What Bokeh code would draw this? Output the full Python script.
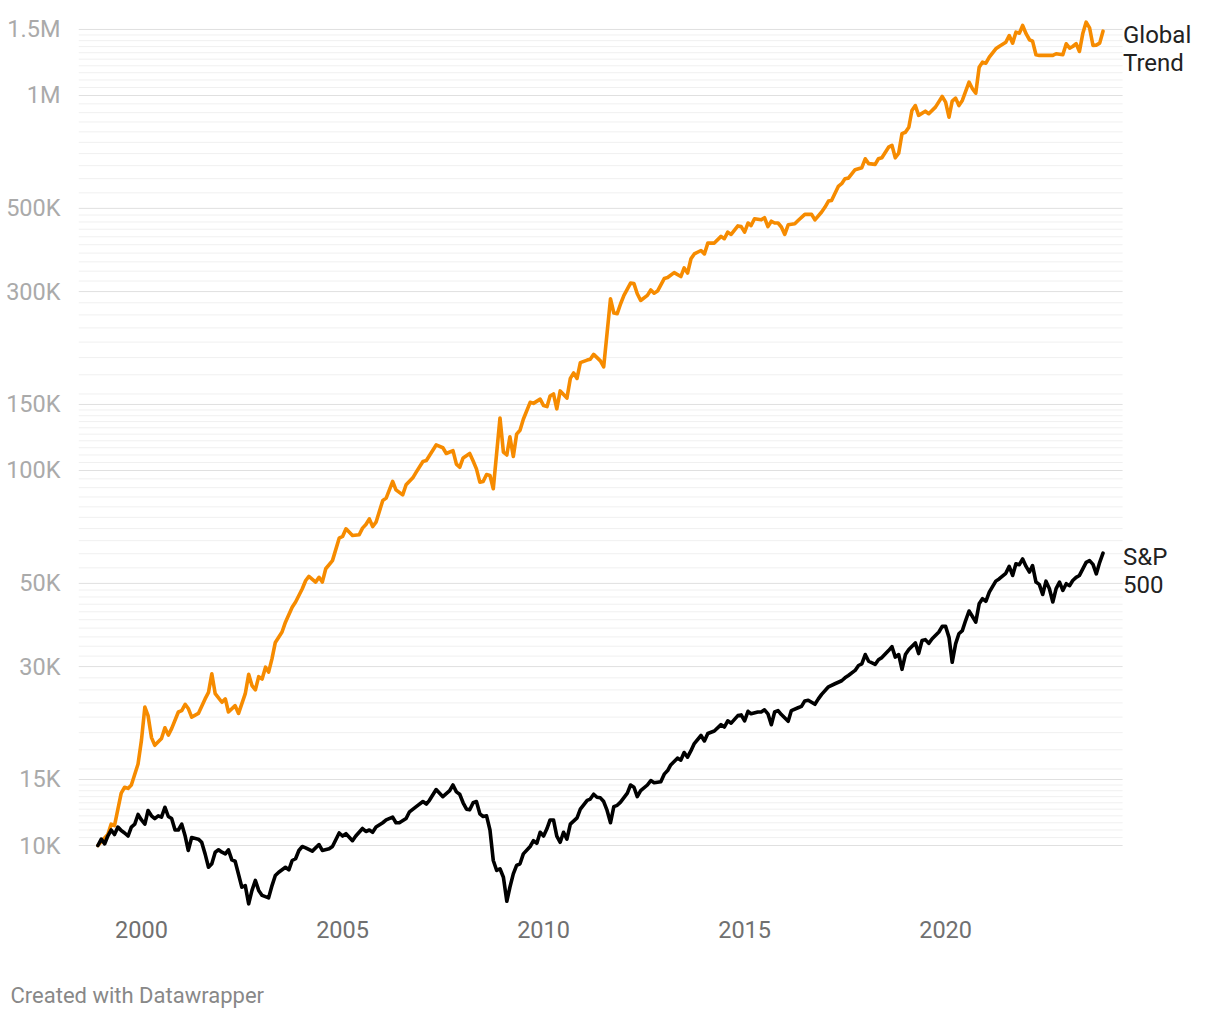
import math
import pandas as pd
from bokeh.plotting import figure
from bokeh.core.properties import value
from bokeh.models import (Range1d, FixedTicker, Label, LabelSet, DatetimeTickFormatter,
                          ColumnDataSource)
from bokeh.embed import file_html
from bokeh.resources import INLINE

# ---------------- data (months counted from December 1998) ----------------
START = pd.Timestamp("1998-12-01")

gt_month = [0, 3, 4, 5, 7, 8, 9, 10, 12, 13,
            14, 15, 16, 17, 19, 20, 21, 22, 24, 25,
            26, 27, 28, 30, 32, 33, 34, 35, 37, 38,
            39, 41, 42, 44, 45, 46, 47, 48, 49, 50,
            51, 52, 53, 55, 56, 58, 59, 61, 62, 63,
            65, 66, 67, 68, 70, 72, 73, 74, 76, 78,
            79, 80, 81, 82, 83, 85, 86, 88, 89, 91,
            92, 94, 95, 97, 98, 101, 103, 104, 106, 107,
            108, 109, 111, 112, 113, 114, 115, 116, 117, 118,
            120, 121, 122, 123, 124, 125, 126, 127, 129, 130,
            132, 133, 134, 135, 136, 137, 138, 140, 141, 142,
            143, 144, 146, 147, 148, 150, 151, 153, 154, 155,
            156, 157, 159, 160, 161, 162, 164, 165, 166, 167,
            169, 170, 172, 174, 175, 176, 177, 178, 180, 181,
            182, 184, 186, 187, 188, 189, 191, 192, 193, 194,
            195, 196, 198, 199, 200, 201, 202, 203, 204, 205,
            206, 208, 209, 211, 213, 214, 216, 217, 218, 219,
            221, 222, 223, 224, 226, 228, 229, 230, 232, 233,
            234, 236, 237, 238, 239, 240, 241, 242, 243, 244,
            245, 247, 248, 250, 252, 253, 254, 255, 256, 257,
            258, 260, 261, 262, 263, 264, 265, 266, 268, 269,
            271, 272, 273, 274, 275, 276, 277, 278, 279, 280,
            281, 285, 286, 288, 289, 290, 291, 292, 293, 294,
            295, 296, 297, 298, 299, 300]
gt_value = [10000, 10700, 11400, 11300, 13800, 14300, 14200, 14500, 16500, 19100,
            23400, 22200, 19400, 18500, 19300, 20600, 19700, 20500, 22700, 22900,
            23800, 23200, 22000, 22500, 24600, 25600, 28700, 25400, 24100, 24600,
            22700, 23600, 22500, 25400, 28600, 26700, 26000, 28200, 27800, 29900,
            29000, 31500, 34800, 37100, 39400, 43200, 44600, 48400, 50900, 52200,
            50400, 51900, 50400, 54700, 57500, 66000, 66700, 69900, 67100, 67400,
            70200, 71800, 74300, 70900, 72800, 83200, 84400, 93500, 88800, 86100,
            91600, 95600, 99000, 105700, 106300, 117000, 115000, 111000, 113000, 104000,
            102000, 108000, 111000, 106000, 101000, 93100, 93500, 97600, 97000, 89400,
            138000, 112000, 110000, 123000, 109000, 125000, 128000, 137000, 152000, 151000,
            155000, 149000, 148000, 158000, 160000, 146000, 163000, 156000, 176000, 182000,
            176000, 194000, 197000, 198000, 204000, 196000, 189000, 287000, 263000, 262000,
            278000, 293000, 316000, 315000, 296000, 284000, 293000, 303000, 297000, 301000,
            325000, 327000, 337000, 329000, 347000, 336000, 367000, 378000, 386000, 378000,
            404000, 404000, 421000, 415000, 432000, 426000, 449000, 447000, 432000, 457000,
            450000, 469000, 466000, 472000, 447000, 462000, 457000, 457000, 446000, 426000,
            452000, 455000, 464000, 482000, 482000, 466000, 489000, 504000, 523000, 525000,
            572000, 582000, 600000, 602000, 634000, 642000, 678000, 658000, 655000, 678000,
            682000, 728000, 736000, 682000, 702000, 791000, 798000, 823000, 912000, 940000,
            885000, 908000, 894000, 931000, 994000, 960000, 875000, 966000, 984000, 940000,
            970000, 1085000, 1042000, 1014000, 1190000, 1227000, 1219000, 1265000, 1332000, 1351000,
            1387000, 1445000, 1379000, 1475000, 1466000, 1537000, 1461000, 1408000, 1396000, 1284000,
            1279000, 1279000, 1292000, 1284000, 1374000, 1337000, 1351000, 1374000, 1310000, 1466000,
            1569000, 1515000, 1359000, 1362000, 1379000, 1484000]

sp_month = [0, 1, 2, 3, 4, 5, 6, 7, 8, 9,
            10, 11, 12, 13, 14, 15, 16, 17, 18, 19,
            20, 21, 22, 23, 24, 25, 26, 27, 28, 30,
            31, 32, 33, 34, 35, 36, 37, 38, 39, 40,
            41, 43, 44, 45, 46, 47, 48, 49, 51, 52,
            53, 54, 56, 57, 58, 59, 60, 61, 62, 64,
            66, 67, 69, 70, 72, 73, 74, 76, 77, 79,
            80, 81, 82, 83, 85, 86, 88, 89, 90, 92,
            93, 95, 97, 98, 99, 101, 103, 105, 106, 107,
            108, 109, 110, 111, 112, 113, 114, 115, 116, 117,
            118, 119, 120, 121, 122, 123, 124, 125, 126, 127,
            129, 130, 131, 132, 133, 134, 135, 136, 137, 138,
            139, 140, 141, 143, 144, 146, 147, 148, 149, 150,
            151, 152, 153, 154, 155, 156, 158, 159, 160, 161,
            162, 164, 165, 166, 168, 169, 170, 171, 173, 174,
            175, 176, 177, 178, 180, 181, 182, 184, 186, 187,
            188, 189, 191, 192, 193, 194, 195, 197, 198, 199,
            200, 201, 202, 203, 204, 206, 207, 209, 210, 211,
            212, 214, 215, 216, 218, 220, 222, 223, 224, 226,
            227, 228, 229, 230, 232, 233, 234, 236, 237, 238,
            239, 240, 241, 242, 244, 245, 246, 247, 248, 249,
            251, 252, 253, 254, 255, 256, 257, 258, 259, 260,
            261, 262, 263, 264, 265, 266, 268, 269, 271, 272,
            273, 274, 275, 276, 277, 278, 279, 280, 281, 282,
            283, 284, 285, 286, 287, 288, 289, 290, 291, 292,
            293, 295, 296, 297, 298, 299, 300]
sp_value = [10000, 10400, 10100, 10600, 11000, 10700, 11200, 10960, 10800, 10600,
            11200, 11400, 12100, 11700, 11400, 12400, 12000, 11800, 12000, 11900,
            12650, 11950, 11800, 11000, 11000, 11400, 10600, 9700, 10500, 10400,
            10200, 9500, 8750, 8940, 9600, 9740, 9600, 9500, 9740, 9160,
            9080, 7740, 7820, 6990, 7590, 8070, 7590, 7360, 7250, 7820,
            8320, 8490, 8750, 8610, 9120, 9220, 9700, 9940, 9860, 9660,
            10060, 9700, 9800, 9940, 10800, 10600, 10750, 10300, 10600, 11100,
            10900, 11000, 10850, 11200, 11500, 11700, 11900, 11500, 11500, 11800,
            12300, 12700, 13100, 12900, 13200, 14100, 13500, 14000, 14500, 13900,
            13700, 13000, 12500, 12450, 13000, 13100, 12150, 11950, 12000, 11000,
            9120, 8580, 8670, 8230, 7100, 7740, 8400, 8850, 8940, 9500,
            9940, 10300, 10140, 10850, 10600, 11100, 11700, 11700, 10600, 10200,
            10850, 10400, 11400, 11850, 12500, 13200, 13300, 13700, 13450, 13400,
            13100, 12400, 11500, 12700, 12800, 13050, 13800, 14500, 14300, 13500,
            14000, 14500, 14900, 14700, 14800, 15500, 15850, 16400, 17100, 16900,
            17700, 17200, 17900, 18700, 19650, 19000, 19900, 20200, 21000, 20700,
            21500, 21200, 22200, 22300, 21500, 22800, 22450, 22700, 22700, 23000,
            22450, 21000, 22700, 22900, 22350, 21450, 22900, 23300, 23500, 24300,
            24400, 23800, 24600, 25300, 26500, 27000, 27500, 28000, 28400, 29300,
            30200, 30500, 32300, 31000, 30400, 31300, 31700, 33100, 33900, 31800,
            32300, 29500, 32300, 33300, 34700, 32500, 35200, 35400, 34600, 35600,
            37100, 38400, 38400, 35900, 30800, 34500, 36700, 37400, 39800, 42200,
            40800, 39400, 44100, 45500, 44800, 47400, 50700, 51400, 53200, 55500,
            52500, 56400, 56100, 58100, 55500, 53600, 55800, 50400, 49700, 46700,
            50700, 48400, 44600, 48400, 50400, 47900, 49900, 49300, 50900, 51900,
            52500, 56900, 57500, 56200, 53000, 56900, 60200]

series_labels = [["Global", "Trend"], ["S&P", "500"]]
series_colors = ["#f68b00", "#000000"]

y_ticks = [10000, 15000, 30000, 50000, 100000, 150000, 300000, 500000, 1000000, 1500000]
y_tick_labels = ["10K", "15K", "30K", "50K", "100K", "150K", "300K", "500K", "1M", "1.5M"]
x_tick_years = [2000, 2005, 2010, 2015, 2020]
footer_text = "Created with Datawrapper"

FONT = "Roboto"

# horizontal layout: plot area runs to X_END, grid lines stop at GRID_END (labels sit beyond)
X_START = pd.Timestamp("1998-06-08")
GRID_END = pd.Timestamp("2024-05-27")
X_END = pd.Timestamp("2026-06-10")


def to_dates(months):
    return pd.DatetimeIndex([START + pd.DateOffset(months=int(m)) for m in months])


def nice_ticks(a, b, count=10):
    step0 = (b - a) / count
    power = math.floor(math.log10(step0))
    err = step0 / 10 ** power
    if err >= math.sqrt(50):
        factor = 10
    elif err >= math.sqrt(10):
        factor = 5
    elif err >= math.sqrt(2):
        factor = 2
    else:
        factor = 1
    step = factor * 10 ** power
    return [int(k * step) for k in range(math.ceil(a / step), math.floor(b / step) + 1)]


minor_ticks = sorted({t for a, b in zip(y_ticks[:-1], y_ticks[1:]) for t in nice_ticks(a, b)} - set(y_ticks))

p = figure(width=1204, height=1018, x_axis_type="datetime", y_axis_type="log",
           x_range=Range1d(X_START, X_END),
           y_range=Range1d(6710, 1685000),
           output_backend="svg", toolbar_location=None,
           min_border_left=78, min_border_right=0, min_border_top=10, min_border_bottom=108)
p.outline_line_color = None
p.background_fill_color = "white"
p.border_fill_color = "white"
p.xgrid.visible = False
p.ygrid.visible = False

# grid lines (minor first, then labelled ones), ending where the reference grid ends
for ticks, col in [(minor_ticks, "#f0f0f0"), (y_ticks, "#e0e0e0")]:
    gsrc = ColumnDataSource(data=dict(x0=[X_START] * len(ticks), x1=[GRID_END] * len(ticks), y=ticks))
    p.segment(x0="x0", x1="x1", y0="y", y1="y", source=gsrc, line_color=col, line_width=1)

# y axis
p.yaxis.ticker = FixedTicker(ticks=y_ticks)
p.yaxis.major_label_overrides = {v: s for v, s in zip(y_ticks, y_tick_labels)}
p.yaxis.axis_line_color = None
p.yaxis.major_tick_line_color = None
p.yaxis.minor_tick_line_color = None
p.yaxis.major_label_standoff = 12
p.yaxis.major_label_text_font = FONT
p.yaxis.major_label_text_font_size = "23.5px"
p.yaxis.major_label_text_color = "#aaaaaa"

# x axis
p.xaxis.ticker = FixedTicker(ticks=[pd.Timestamp(f"{y}-01-01").value / 1e6 for y in x_tick_years])
p.xaxis.formatter = DatetimeTickFormatter(years="%Y", months="%Y", days="%Y", hours="%Y",
                                          minutes="%Y", seconds="%Y", milliseconds="%Y",
                                          microseconds="%Y", minsec="%Y", hourmin="%Y")
p.xaxis.axis_line_color = None
p.xaxis.major_tick_line_color = None
p.xaxis.minor_tick_line_color = None
p.xaxis.major_label_standoff = 4
p.xaxis.major_label_text_font = FONT
p.xaxis.major_label_text_font_size = "23.5px"
p.xaxis.major_label_text_color = "#707070"

lab_text, lab_x, lab_y, lab_dy = [], [], [], []
for months, values, names, color in [(gt_month, gt_value, series_labels[0], series_colors[0]),
                                     (sp_month, sp_value, series_labels[1], series_colors[1])]:
    dates = to_dates(months)
    src = ColumnDataSource(data=dict(date=dates, value=values))
    p.line(x="date", y="value", source=src, line_color=color, line_width=3.6,
           line_join="round", line_cap="round")
    for i, name in enumerate(names):
        lab_text.append(name)
        lab_x.append(dates[-1])
        lab_y.append(values[-1])
        lab_dy.append(-12 - 27.5 * i)

# end-of-line labels anchored to each series' last point
label_src = ColumnDataSource(data=dict(x=lab_x, y=lab_y, text=lab_text, dy=lab_dy))
p.add_layout(LabelSet(x="x", y="y", text="text", y_offset="dy", x_offset=20, source=label_src,
                      text_font=value(FONT), text_font_size=value("24px"),
                      text_color=value("#222222"),
                      text_baseline=value("alphabetic"), text_align=value("left")))

p.add_layout(Label(x=-68, y=-30, x_units="screen", y_units="screen", text=footer_text,
                   text_font=FONT, text_font_size="22px", text_color="#888888",
                   text_baseline="alphabetic", text_align="left"), "below")

open("out.html", "w").write(file_html(p, INLINE))
